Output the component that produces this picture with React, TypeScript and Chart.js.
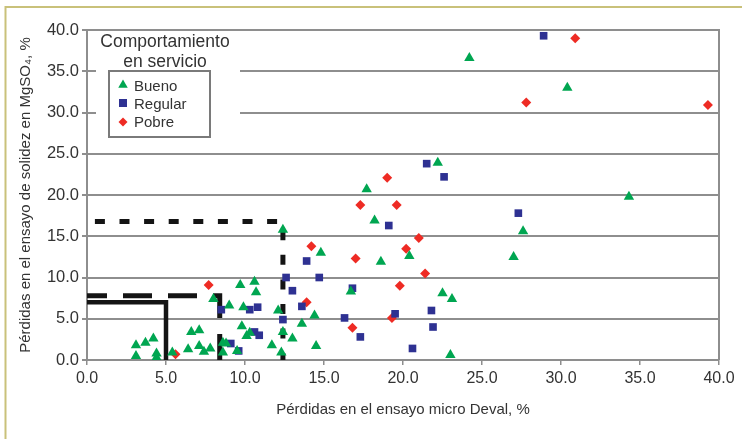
import React, { useEffect, useRef } from 'react';
import { Chart, registerables } from 'chart.js';

Chart.register(...registerables);

// ---- Data ----
const axisTicks = [0, 5, 10, 15, 20, 25, 30, 35, 40];

const bueno: [number, number][] = [
  [3.1, 1.8], [3.1, 0.5], [3.7, 2.1], [4.2, 2.6], [4.4, 0.8], [4.4, 0.3], [5.4, 0.9],
  [6.4, 1.3], [6.6, 3.4], [7.1, 3.6], [7.1, 1.7], [7.4, 1.0], [7.8, 1.4], [8.0, 7.4],
  [8.6, 2.1], [8.8, 2.0], [8.6, 0.9], [9.0, 6.6], [9.5, 1.1], [9.7, 9.1], [9.8, 4.1],
  [9.9, 6.4], [10.1, 2.9], [10.3, 3.3], [10.6, 9.5], [10.7, 8.2], [11.7, 1.8], [12.1, 6.0],
  [12.4, 3.4], [12.3, 0.9], [13.0, 2.6], [13.6, 4.4], [14.4, 5.4], [14.5, 1.7], [12.4, 15.8],
  [14.8, 13.0], [16.7, 8.3], [17.7, 20.7], [18.2, 16.9], [18.6, 11.9], [20.4, 12.6],
  [22.2, 23.9], [22.5, 8.1], [23.1, 7.4], [23.0, 0.6], [24.2, 36.6], [27.0, 12.5],
  [27.6, 15.6], [30.4, 33.0], [34.3, 19.8],
];

const regular: [number, number][] = [
  [8.5, 6.1], [9.1, 2.0], [9.6, 1.1], [10.3, 6.1], [10.6, 3.4], [10.8, 6.4], [10.9, 3.0],
  [12.4, 4.9], [12.6, 10.0], [13.0, 8.4], [13.6, 6.5], [13.9, 12.0], [14.7, 10.0],
  [16.3, 5.1], [16.8, 8.7], [17.3, 2.8], [19.1, 16.3], [19.5, 5.6], [20.6, 1.4],
  [21.5, 23.8], [21.8, 6.0], [21.9, 4.0], [22.6, 22.2], [27.3, 17.8], [28.9, 39.3],
];

const pobre: [number, number][] = [
  [5.6, 0.7], [7.7, 9.1], [13.9, 7.0], [14.2, 13.8], [16.8, 3.9], [17.0, 12.3],
  [17.3, 18.8], [19.0, 22.1], [19.3, 5.1], [19.6, 18.8], [19.8, 9.0], [20.2, 13.5],
  [21.0, 14.8], [21.4, 10.5], [27.8, 31.2], [30.9, 39.0], [39.3, 30.9],
];

// Limit lines
const guideShortDash: [number, number][] = [[0.5, 16.8], [12.4, 16.8], [12.4, 0]];
const guideLongDash: [number, number][] = [[0, 7.8], [8.4, 7.8], [8.4, 0]];
const guideSolid: [number, number][] = [[0, 7.0], [5.0, 7.0], [5.0, 0]];

const legendTitle = ['Comportamiento', 'en servicio'];
const legendLabels = ['Bueno', 'Regular', 'Pobre'];

const xTitle = 'Pérdidas en el ensayo micro Deval, %';
const yTitle = 'Pérdidas en el ensayo de solidez en MgSO₄, %';

// ---- Styles ----
const GREEN = '#00A651';
const BLUE = '#2E3192';
const RED = '#EE2B24';
const GRID = '#8E8E8E';
const TEXT = '#333333';
const FONT = "'Liberation Sans', Arial, Helvetica, sans-serif";

const toPts = (a: [number, number][]) => a.map(([x, y]) => ({ x, y }));

const decorPlugin = {
  id: 'decor',
  beforeDraw(chart: any) {
    const ctx = chart.ctx;
    ctx.save();
    ctx.fillStyle = '#ffffff';
    ctx.fillRect(0, 0, chart.width, chart.height);
    ctx.strokeStyle = '#C9C17A';
    ctx.lineWidth = 2;
    ctx.beginPath();
    ctx.moveTo(5.5, chart.height);
    ctx.lineTo(5.5, 7);
    ctx.lineTo(chart.width, 7);
    ctx.stroke();
    ctx.restore();
  },
  beforeDatasetsDraw(chart: any) {
    const { ctx, chartArea: ca } = chart;
    ctx.save();
    // right border of plot
    ctx.strokeStyle = GRID;
    ctx.lineWidth = 2;
    ctx.beginPath();
    ctx.moveTo(ca.right, ca.top - 1);
    ctx.lineTo(ca.right, ca.bottom);
    ctx.stroke();

    // white area behind legend
    const L = ca.left;
    const T = ca.top;
    ctx.fillStyle = '#ffffff';
    ctx.fillRect(L + 9, T + 3, 144, 108);

    // legend title
    ctx.fillStyle = TEXT;
    ctx.font = `17.5px ${FONT}`;
    ctx.textAlign = 'center';
    ctx.textBaseline = 'middle';
    ctx.fillText(legendTitle[0], L + 78, T + 12);
    ctx.fillText(legendTitle[1], L + 78, T + 32);

    // legend box
    ctx.strokeStyle = '#7A7A7A';
    ctx.lineWidth = 2;
    ctx.strokeRect(L + 22, T + 41, 101, 66);

    // legend entries
    ctx.font = `15px ${FONT}`;
    ctx.textAlign = 'left';
    const mx = L + 36;
    const rows = [T + 57, T + 75, T + 93];
    legendLabels.forEach((lab, i) => ctx.fillText(lab, L + 47, rows[i]));

    // triangle
    ctx.fillStyle = GREEN;
    const r = 5.5;
    const ty = rows[0] - 2;
    ctx.beginPath();
    ctx.moveTo(mx, ty - r);
    ctx.lineTo(mx + r * 0.866, ty + r / 2);
    ctx.lineTo(mx - r * 0.866, ty + r / 2);
    ctx.closePath();
    ctx.fill();
    // square
    ctx.fillStyle = BLUE;
    ctx.fillRect(mx - 4, rows[1] - 2 - 4, 8, 8);
    // diamond
    ctx.fillStyle = RED;
    const dy = rows[2] - 1;
    ctx.beginPath();
    ctx.moveTo(mx, dy - 4.5);
    ctx.lineTo(mx + 4.5, dy);
    ctx.lineTo(mx, dy + 4.5);
    ctx.lineTo(mx - 4.5, dy);
    ctx.closePath();
    ctx.fill();
    ctx.restore();
  },
};

export default function App() {
  const ref = useRef<HTMLCanvasElement | null>(null);

  useEffect(() => {
    document.body.style.margin = '0';
    const canvas = ref.current;
    if (!canvas) return;

    const lineDs = (data: [number, number][], dash: number[], offset: number, width: number) => ({
      type: 'scatter' as const,
      data: toPts(data),
      showLine: true,
      borderColor: '#141414',
      backgroundColor: '#141414',
      borderWidth: width,
      borderDash: dash,
      borderDashOffset: offset,
      borderCapStyle: 'butt' as const,
      borderJoinStyle: 'miter' as const,
      pointRadius: 0,
      pointHoverRadius: 0,
      tension: 0,
    });

    const chart = new Chart(canvas, {
      type: 'scatter',
      data: {
        datasets: [
          {
            label: legendLabels[0],
            data: toPts(bueno),
            pointStyle: 'triangle',
            pointRadius: 6,
            backgroundColor: GREEN,
            borderColor: GREEN,
            borderWidth: 0,
          },
          {
            label: legendLabels[1],
            data: toPts(regular),
            pointStyle: 'rect',
            pointRadius: 5.4,
            backgroundColor: BLUE,
            borderColor: BLUE,
            borderWidth: 0,
          },
          {
            label: legendLabels[2],
            data: toPts(pobre),
            pointStyle: 'rectRot',
            pointRadius: 5,
            backgroundColor: RED,
            borderColor: RED,
            borderWidth: 0,
          },
          lineDs(guideShortDash, [10, 14.6], 0, 5),
          lineDs(guideLongDash, [29, 16], 9, 5),
          lineDs(guideSolid, [], 0, 4.5),
        ] as any,
      },
      options: {
        responsive: false,
        animation: false,
        events: [],
        layout: { padding: { top: 30, right: 23, left: 0, bottom: 0 } },
        plugins: {
          legend: { display: false },
          tooltip: { enabled: false },
          title: { display: false },
        },
        scales: {
          x: {
            type: 'linear',
            min: 0,
            max: 40,
            afterFit: (s: any) => { s.height = 79; },
            afterBuildTicks: (s: any) => { s.ticks = axisTicks.map((v) => ({ value: v })); },
            ticks: {
              color: TEXT,
              font: { family: FONT, size: 16 },
              padding: 4,
              maxRotation: 0,
              callback: (v: any) => Number(v).toFixed(1),
            },
            grid: {
              display: true,
              drawOnChartArea: false,
              drawTicks: true,
              tickLength: 5,
              color: GRID,
              lineWidth: 1.5,
            },
            border: { display: true, color: GRID, width: 2 },
            title: {
              display: true,
              text: xTitle,
              color: TEXT,
              font: { family: FONT, size: 15 },
              padding: { top: 0, bottom: 20 },
            },
          },
          y: {
            type: 'linear',
            min: 0,
            max: 40,
            afterFit: (s: any) => { s.width = 87; },
            afterBuildTicks: (s: any) => { s.ticks = axisTicks.map((v) => ({ value: v })); },
            ticks: {
              color: TEXT,
              font: { family: FONT, size: 16.5 },
              padding: 3,
              callback: (v: any) => Number(v).toFixed(1),
            },
            grid: {
              display: true,
              drawOnChartArea: true,
              drawTicks: true,
              tickLength: 5,
              color: GRID,
              lineWidth: 2,
            },
            border: { display: true, color: GRID, width: 2 },
            title: {
              display: true,
              text: yTitle,
              color: TEXT,
              font: { family: FONT, size: 15 },
              padding: { top: 17, bottom: 0 },
            },
          },
        },
      } as any,
      plugins: [decorPlugin],
    });

    return () => chart.destroy();
  }, []);

  return (
    <div style={{ width: 742, height: 439, position: 'relative' }}>
      <canvas ref={ref} width={742} height={439} style={{ display: 'block' }} />
    </div>
  );
}
